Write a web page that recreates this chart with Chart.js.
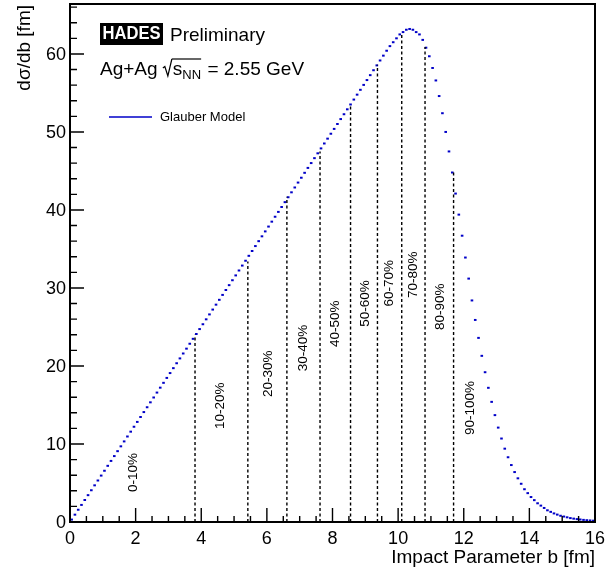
<!DOCTYPE html>
<html>
<head>
<meta charset="utf-8">
<script src="https://cdn.jsdelivr.net/npm/chart.js@4.4.1/dist/chart.umd.min.js"></script>
<style>
html,body{margin:0;padding:0;background:#fff;}
canvas{display:block;}
</style>
</head>
<body>
<canvas id="c" width="613" height="570"></canvas>
<script>
// Histogram definition: 160 bins of 0.1 fm from 0 to 16 fm
const binLow = 0, binHigh = 16, nBins = 160;
// dσ/db values per bin
const dsigma = [
 0.31,0.94,1.57,2.19,2.82,3.44,4.07,4.70,5.32,5.95,
 6.57,7.20,7.83,8.45,9.08,9.70,10.33,10.96,11.58,12.21,
 12.83,13.46,14.09,14.71,15.34,15.96,16.59,17.22,17.84,18.47,
 19.09,19.72,20.35,20.97,21.60,22.22,22.85,23.48,24.10,24.73,
 25.35,25.98,26.61,27.23,27.86,28.48,29.11,29.74,30.36,30.99,
 31.61,32.24,32.87,33.49,34.12,34.74,35.37,36.00,36.62,37.25,
 37.87,38.50,39.13,39.75,40.38,41.00,41.63,42.26,42.88,43.51,
 44.13,44.76,45.39,46.01,46.64,47.26,47.89,48.52,49.14,49.77,
 50.39,51.02,51.65,52.27,52.90,53.52,54.15,54.78,55.40,56.03,
 56.65,57.28,57.91,58.53,59.16,59.78,60.41,61.00,61.50,62.00,
 62.50,62.80,63.10,63.20,63.10,62.80,62.50,61.80,60.80,59.70,
 58.20,56.60,54.60,52.40,50.00,47.50,44.80,42.10,39.40,36.70,
 33.90,31.20,28.40,25.90,23.60,21.30,19.20,17.20,15.40,13.70,
 12.10,10.70,9.40,8.30,7.30,6.40,5.60,4.90,4.20,3.70,
 3.20,2.80,2.40,2.10,1.80,1.50,1.30,1.10,0.95,0.80,
 0.70,0.60,0.50,0.43,0.37,0.32,0.27,0.23,0.20,0.17
];
// Centrality class boundaries (b in fm) and line heights
const cutB = [3.81, 5.42, 6.61, 7.62, 8.55, 9.37, 10.11, 10.82, 11.69];
const cutH = [24.0, 33.4, 41.7, 47.5, 53.3, 58.6, 62.7, 60.9, 44.9];
// Centrality class labels and their anchor (data coordinates)
const centLabels = ["0-10%","10-20%","20-30%","30-40%","40-50%","50-60%","60-70%","70-80%","80-90%","90-100%"];
const centLabelB = [1.92, 4.57, 6.04, 7.10, 8.08, 8.99, 9.73, 10.46, 11.28, 12.20];
const centLabelY = [6.35, 14.9, 19.0, 22.3, 25.4, 28.0, 30.6, 31.7, 27.6, 14.6];
// Axis ticks
const xMajor = [0,2,4,6,8,10,12,14,16];
const yMajor = [0,10,20,30,40,50,60];
const xMax = 16, yMax = 66.4;

const binW = (binHigh - binLow) / nBins;
const histPoints = dsigma.map((v, i) => ({x: binLow + binW * (i + 0.5), y: v}));
const cutPoints = [];
cutB.forEach((b, i) => { cutPoints.push({x: b, y: 0}, {x: b, y: cutH[i]}, {x: b, y: null}); });

const FONT = '"Liberation Sans", Arial, Helvetica, sans-serif';
const BLUE = 'rgb(0,0,200)';

const overlay = {
  id: 'overlay',
  afterDraw(chart) {
    const ctx = chart.ctx;
    const xs = chart.scales.x, ys = chart.scales.y;
    const a = chart.chartArea;
    ctx.save();
    // tick marks
    ctx.strokeStyle = '#000';
    ctx.lineWidth = 1.4;
    ctx.beginPath();
    for (let v = 0; v <= xMax + 1e-9; v += 0.5) {
      const px = xs.getPixelForValue(v);
      const major = Math.abs(v / 2 - Math.round(v / 2)) < 1e-6;
      const len = major ? 14 : 6;
      ctx.moveTo(px, a.bottom); ctx.lineTo(px, a.bottom - len);
    }
    for (let v = 0; v <= yMax + 1e-9; v += 2) {
      const py = ys.getPixelForValue(v);
      const major = v % 10 === 0;
      const len = major ? 14 : 7;
      ctx.moveTo(a.left, py); ctx.lineTo(a.left + len, py);
    }
    ctx.stroke();
    // frame
    ctx.lineWidth = 2;
    ctx.strokeRect(a.left, a.top, a.right - a.left, a.bottom - a.top);

    // tick labels
    ctx.fillStyle = '#000';
    ctx.font = '18px ' + FONT;
    ctx.textAlign = 'center'; ctx.textBaseline = 'top';
    xMajor.forEach(v => ctx.fillText(String(v), xs.getPixelForValue(v), a.bottom + 8));
    ctx.textAlign = 'right'; ctx.textBaseline = 'middle';
    yMajor.forEach(v => ctx.fillText(String(v), a.left - 4, ys.getPixelForValue(v) + 1));

    // axis titles
    ctx.font = '19px ' + FONT;
    ctx.textAlign = 'right'; ctx.textBaseline = 'alphabetic';
    ctx.fillText('Impact Parameter b [fm]', a.right, 563);
    ctx.save();
    ctx.translate(30, a.top + 1);
    ctx.rotate(-Math.PI / 2);
    ctx.textAlign = 'right';
    ctx.fillText('d\u03c3/db [fm]', 0, 0);
    ctx.restore();

    // HADES logo + Preliminary
    ctx.fillStyle = '#000';
    ctx.fillRect(100, 23, 63, 22);
    ctx.fillStyle = '#fff';
    ctx.font = 'bold 18px ' + FONT;
    ctx.textAlign = 'center'; ctx.textBaseline = 'middle';
    ctx.fillText('HADES', 131.5, 34.5, 58);
    ctx.fillStyle = '#000';
    ctx.font = '19px ' + FONT;
    ctx.textAlign = 'left'; ctx.textBaseline = 'alphabetic';
    ctx.fillText('Preliminary', 170, 41);

    // Ag+Ag sqrt(s_NN) = 2.55 GeV
    let x = 100; const base = 75;
    ctx.fillText('Ag+Ag ', x, base); x += ctx.measureText('Ag+Ag ').width;
    ctx.lineWidth = 1.2;
    ctx.beginPath();
    ctx.moveTo(x, base - 7); ctx.lineTo(x + 2, base - 8.5); ctx.lineTo(x + 5, base + 1);
    ctx.lineTo(x + 9, base - 16); ctx.stroke();
    const sStart = x + 10;
    x = sStart;
    ctx.fillText('s', x, base); x += ctx.measureText('s').width;
    ctx.font = '13px ' + FONT;
    ctx.fillText('NN', x, base + 4); x += ctx.measureText('NN').width;
    ctx.beginPath(); ctx.moveTo(sStart - 1, base - 16); ctx.lineTo(x, base - 16); ctx.stroke();
    ctx.font = '19px ' + FONT;
    ctx.fillText(' = 2.55 GeV', x + 1, base);

    // legend
    ctx.strokeStyle = BLUE; ctx.lineWidth = 1.5;
    ctx.beginPath(); ctx.moveTo(109, 117); ctx.lineTo(152, 117); ctx.stroke();
    ctx.fillStyle = '#000';
    ctx.font = '13px ' + FONT;
    ctx.textBaseline = 'middle';
    ctx.fillText('Glauber Model', 160, 117);

    // centrality labels
    ctx.font = '13.5px ' + FONT;
    ctx.textAlign = 'center'; ctx.textBaseline = 'middle';
    centLabels.forEach((t, i) => {
      ctx.save();
      ctx.translate(xs.getPixelForValue(centLabelB[i]), ys.getPixelForValue(centLabelY[i]));
      ctx.rotate(-Math.PI / 2);
      ctx.fillText(t, 0, 0);
      ctx.restore();
    });
    ctx.restore();
  }
};

new Chart(document.getElementById('c'), {
  type: 'scatter',
  data: {
    datasets: [
      {
        type: 'line',
        data: cutPoints,
        showLine: true,
        spanGaps: false,
        borderColor: '#000',
        borderWidth: 1.4,
        borderDash: [3, 2.5],
        pointRadius: 0,
        fill: false,
        tension: 0
      },
      {
        data: histPoints,
        showLine: false,
        pointStyle: 'line',
        pointRadius: 1.3,
        pointBorderWidth: 2,
        pointBorderColor: BLUE,
        pointBackgroundColor: BLUE,
        pointHoverRadius: 1.3
      }
    ]
  },
  options: {
    responsive: false,
    animation: false,
    devicePixelRatio: 1,
    layout: { padding: { left: 70, right: 18, top: 4, bottom: 48 } },
    scales: {
      x: { type: 'linear', min: 0, max: xMax, display: false },
      y: { type: 'linear', min: 0, max: yMax, display: false }
    },
    plugins: { legend: { display: false }, tooltip: { enabled: false } },
    events: []
  },
  plugins: [overlay]
});
</script>
</body>
</html>
